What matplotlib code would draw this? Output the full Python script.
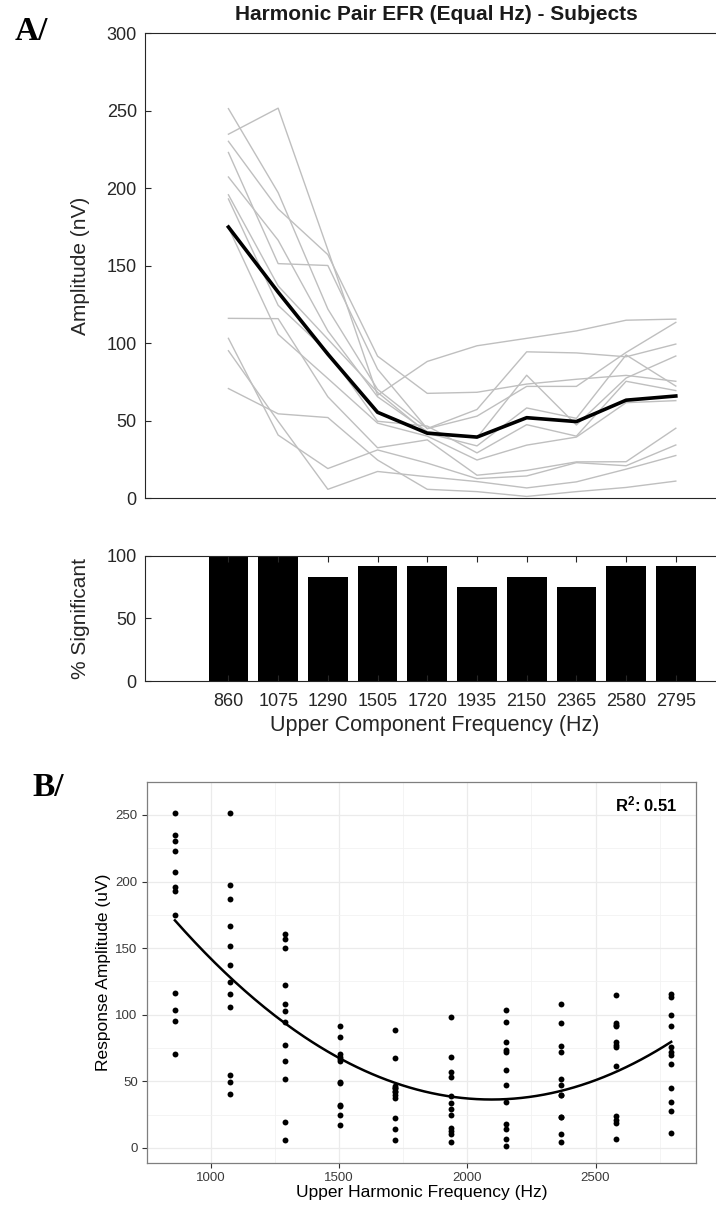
import numpy as np
import matplotlib
matplotlib.use("Agg")
import matplotlib.pyplot as plt

plt.rcParams['font.family'] = ['Liberation Sans', 'DejaVu Sans']
plt.rcParams['mathtext.fontset'] = 'custom'
plt.rcParams['mathtext.rm'] = 'Liberation Sans'
plt.rcParams['mathtext.bf'] = 'Liberation Sans:bold'

# upper component frequencies (Hz)
freqs = [860, 1075, 1290, 1505, 1720, 1935, 2150, 2365, 2580, 2795]

# per-subject response amplitudes
sub01 = [234.9, 251.7, 160.3, 66.5, 88.3, 98.4, 103.2, 108.0, 114.9, 115.6]
sub02 = [251.4, 197.2, 122.1, 70.3, 45.0, 57.3, 94.5, 93.8, 91.3, 99.5]
sub03 = [230.3, 186.7, 157.2, 91.7, 67.7, 68.4, 73.7, 76.8, 79.3, 75.5]
sub04 = [223.1, 151.4, 150.2, 83.3, 44.9, 53.0, 72.2, 72.2, 94.1, 113.5]
sub05 = [207.3, 166.5, 108.0, 65.5, 43.0, 39.1, 79.4, 47.3, 77.6, 91.8]
sub06 = [195.8, 137.0, 102.7, 68.4, 42.0, 33.8, 58.3, 51.6, 92.5, 72.4]
sub07 = [193.1, 124.5, 94.3, 49.7, 46.6, 29.3, 47.5, 40.1, 75.5, 69.5]
sub08 = [174.7, 105.8, 77.3, 48.5, 40.1, 24.7, 34.3, 39.5, 61.7, 63.0]
sub09 = [116.1, 115.9, 65.5, 32.6, 37.7, 14.9, 18.0, 23.5, 23.6, 45.2]
sub10 = [103.2, 40.8, 19.2, 31.2, 22.7, 12.7, 14.4, 23.0, 21.0, 34.4]
sub11 = [95.2, 49.7, 5.8, 17.3, 13.9, 10.8, 6.7, 10.6, 18.8, 27.6]
sub12 = [70.8, 54.5, 52.1, 24.7, 5.8, 4.3, 1.2, 4.3, 7.0, 11.1]
subjects = [sub01, sub02, sub03, sub04, sub05, sub06,
            sub07, sub08, sub09, sub10, sub11, sub12]

# group mean (black line)
mean_amp = [175, 133, 93, 55.5, 42, 39.5, 52, 49.5, 63.3, 66]

# % of subjects with a significant response
pct_sig = [100, 100, 83.3, 91.7, 91.7, 75, 83.3, 75, 91.7, 91.7]

r2_text = r'$\mathbf{R^{2}\!:0.51}$'

W, H = 716, 1207
dark = '#262626'


def box(l, t, r, b):
    return [l / W, 1 - b / H, (r - l) / W, (b - t) / H]


fig = plt.figure(figsize=(W / 100, H / 100), dpi=100)

# ---------- panel A: subject lines ----------
axA = fig.add_axes(box(145.2, 33.3, 723.2, 498.3))
for s in subjects:
    axA.plot(freqs, s, color='#BFBFBF', lw=1.0)
axA.plot(freqs, mean_amp, color='black', lw=2.6)
axA.set_xlim(500, 3000)
axA.set_ylim(0, 300)
axA.set_xticks([])
axA.set_yticks(range(0, 301, 50))
axA.tick_params(direction='in', length=4, labelsize=13, colors=dark, pad=6)
for sp in axA.spines.values():
    sp.set_color(dark)
    sp.set_linewidth(0.8)
axA.set_ylabel('Amplitude (nV)', fontsize=15, color=dark)
axA.yaxis.set_label_coords(-0.095, 0.5)
fig.text(436 / W, 1 - 15 / H, 'Harmonic Pair EFR (Equal Hz) - Subjects',
         ha='center', va='center', fontsize=15, fontweight='bold', color='#1a1a1a')

# ---------- panel A: % significant bars ----------
axS = fig.add_axes(box(145.2, 555.7, 723.2, 681))
axS.bar(freqs, pct_sig, width=172, color='black')
axS.set_xlim(500, 3000)
axS.set_ylim(0, 100)
axS.set_yticks([0, 50, 100])
axS.set_xticks(freqs)
axS.set_xticklabels([str(f) for f in freqs])
axS.tick_params(direction='in', length=4, labelsize=13, colors=dark, top=True)
axS.tick_params(axis='x', pad=9)
axS.tick_params(axis='y', pad=6)
for sp in axS.spines.values():
    sp.set_color(dark)
    sp.set_linewidth(0.8)
axS.set_ylabel('% Significant', fontsize=15, color=dark)
axS.yaxis.set_label_coords(-0.095, 0.5)
axS.set_xlabel('Upper Component Frequency (Hz)', fontsize=15.5, color=dark)
axS.xaxis.set_label_coords(0.5, -0.27)

fig.text(31 / W, 1 - 31 / H, 'A/', family='Liberation Serif', fontweight='bold',
         fontsize=24, ha='center', va='center')

# ---------- panel B: scatter with quadratic fit ----------
x_all = np.repeat(freqs, len(subjects))
y_all = np.array(subjects).T.ravel()

axB = fig.add_axes(box(146.7, 781.7, 696, 1163))
xr = max(freqs) - min(freqs)
axB.set_xlim(min(freqs) - 0.05 * xr, max(freqs) + 0.05 * xr)
yr = y_all.max() - y_all.min()
axB.set_ylim(y_all.min() - 0.05 * yr, y_all.max() + 0.05 * yr)

axB.set_xticks([1000, 1500, 2000, 2500])
axB.set_xticks([750, 1250, 1750, 2250, 2750], minor=True)
axB.set_yticks(range(0, 251, 50))
axB.set_yticks(range(25, 276, 50), minor=True)
axB.grid(which='major', color='#EBEBEB', lw=0.9)
axB.grid(which='minor', color='#F2F2F2', lw=0.6)
axB.set_axisbelow(True)

axB.scatter(x_all, y_all, s=18, color='black', linewidths=0, zorder=3)
coef = np.polyfit(x_all, y_all, 2)
xs = np.linspace(min(freqs), max(freqs), 200)
axB.plot(xs, np.polyval(coef, xs), color='black', lw=1.8, zorder=4)

for sp in axB.spines.values():
    sp.set_color('#7F7F7F')
    sp.set_linewidth(0.9)
axB.tick_params(which='major', direction='out', length=3.5, color='#333333',
                labelsize=9.5, labelcolor='#3a3a3a', pad=3)
axB.tick_params(which='minor', length=0)
axB.set_xlabel('Upper Harmonic Frequency (Hz)', fontsize=12.5, color='black', labelpad=1)
axB.set_ylabel('Response Amplitude (uV)', fontsize=12.5, color='black', labelpad=3)
axB.text(0.909, 0.94, r2_text, transform=axB.transAxes, ha='center', va='center',
         fontsize=12)

fig.text(48 / W, 1 - 787 / H, 'B/', family='Liberation Serif', fontweight='bold',
         fontsize=24, ha='center', va='center')

fig.savefig('out.png', dpi=100)
